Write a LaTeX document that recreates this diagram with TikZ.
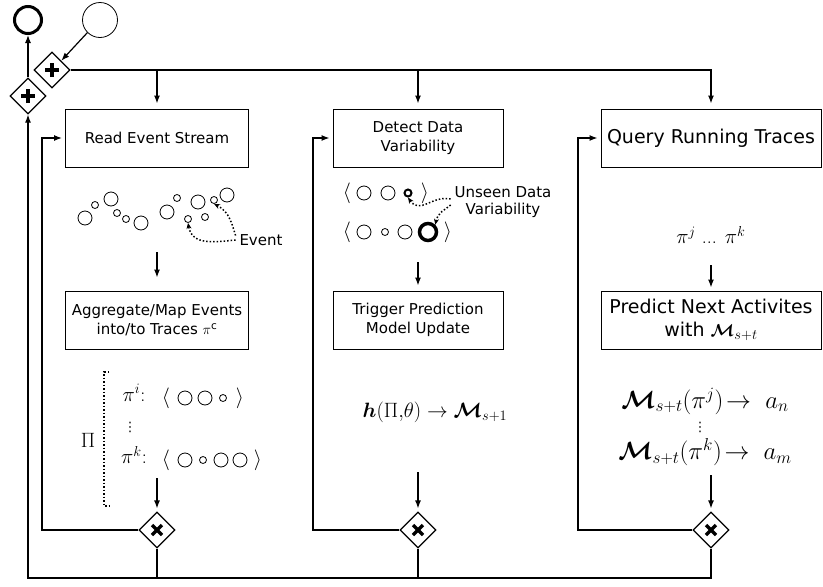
\documentclass[tikz,border=0pt]{standalone}
\usepackage{amsmath}
\usepackage{bm}
\usepackage{fontspec}
\setsansfont{DejaVu Sans}
\newfontfamily\symfont{DejaVu Sans}
\usetikzlibrary{positioning, shapes.geometric, arrows.meta}

\tikzset{
  task/.style={draw, rectangle, line width=1pt, align=center, minimum height=58pt, inner sep=3pt,
    font=\sffamily\fontsize{15}{19}\selectfont},
  bigtask/.style={task, font=\sffamily\fontsize{19}{23}\selectfont},
  gate/.style={draw, diamond, line width=1.2pt, minimum size=36pt, inner sep=0pt, fill=white},
  andgate/.style={gate, path picture={
      \draw[line width=4pt] ([xshift=-7pt]path picture bounding box.center) -- ([xshift=7pt]path picture bounding box.center);
      \draw[line width=4pt] ([yshift=-7pt]path picture bounding box.center) -- ([yshift=7pt]path picture bounding box.center);}},
  xorgate/.style={gate, path picture={
      \draw[line width=3.5pt] ([shift={(-5pt,-5pt)}]path picture bounding box.center) -- ([shift={(5pt,5pt)}]path picture bounding box.center);
      \draw[line width=3.5pt] ([shift={(-5pt,5pt)}]path picture bounding box.center) -- ([shift={(5pt,-5pt)}]path picture bounding box.center);}},
  ev/.style={draw, circle, inner sep=0pt, line width=0.8pt},
  note/.style={font=\sffamily\fontsize{15}{17}\selectfont, align=center},
  formula/.style={font=\fontsize{20}{23}\selectfont, inner sep=1pt},
  bigformula/.style={font=\fontsize{24}{27}\selectfont, inner sep=0pt},
  vdotsmark/.style={font=\symfont\fontsize{13}{14}\selectfont, inner sep=0pt},
  hint/.style={-{Stealth[length=6pt,width=5pt]}, dotted, line width=1.5pt},
}

\begin{document}
\begin{tikzpicture}[x=1pt, y=-1pt, line width=1.2pt, >={Latex[length=8pt,width=6pt]}, node distance=182pt, on grid]
  \useasboundingbox (0,0) rectangle (823,587);

  % start, end and the two parallel gates
  \node[circle, draw, line width=3pt, minimum size=27pt] (done) at (28,20) {};
  \node[circle, draw, line width=0.8pt, minimum size=35pt] (start) at (100,20) {};
  \node[andgate] (split) at (52,70) {};
  \node[andgate] (join) at (28,96) {};

  % the three loops
  \node[task, minimum width=183pt] (read) at (157,138) {Read Event Stream};
  \node[task, minimum width=183pt, below=of read] (aggr) {Aggregate/Map Events\\into/to Traces $\pi^{\textsf{c}}$};
  \node[task, minimum width=170pt] (detect) at (418,138) {Detect Data\\Variability};
  \node[task, minimum width=170pt, below=of detect] (trigger) {Trigger Prediction\\Model Update};
  \node[bigtask, minimum width=220pt] (query) at (711,138) {Query Running Traces};
  \node[bigtask, minimum width=220pt, below=of query] (predict) {Predict Next Activites\\with $\bm{\mathcal{M}}_{s+t}$};

  \node[xorgate] (x1) at (157,530) {};
  \node[xorgate] (x2) at (418,530) {};
  \node[xorgate] (x3) at (711,530) {};

  % events
  \foreach \x/\y/\d [count=\i] in {85/218/14, 95/205/7, 111/199/14, 117/213/7, 126/219/7, 141/223/14, 167/212/14,
      177/198/7, 188/219/7, 198/202/14, 205/217/7, 214/200/7, 227/195/14}
    \node[ev, minimum size=\d*1pt] (e\i) at (\x,\y) {};
  \node[note] (evt) at (261,240) {Event};
  \draw[hint] (evt.west) .. controls (215,242) and (192,246) .. (e9.south);
  \draw[hint] ([yshift=-5pt]evt.north west) .. controls (232,225) and (230,212) .. (e12.south);

  % traces
  \node[formula] (traces) at (88,440) {$\Pi$};
  \draw[dotted, line width=1.5pt] (109,372) -- (104,372) -- (104,506) -- (109,506);
  \node[formula] (pi) at (134,393) {$\pi^{i}$:};
  \node[formula] (pil) at (166,398) {$\langle$};
  \foreach \x/\d [count=\i] in {185/14, 205/14, 223/7}
    \node[ev, minimum size=\d*1pt] (pi\i) at (\x,398) {};
  \node[formula] (pir) at (240,398) {$\rangle$};
  \node[vdotsmark] (pdots) at (130,427) {⋮};
  \node[formula] (pk) at (134,455) {$\pi^{k}$:};
  \node[formula] (pkl) at (166,460) {$\langle$};
  \foreach \x/\d [count=\i] in {185/14, 203/7, 221/14, 240/14}
    \node[ev, minimum size=\d*1pt] (pk\i) at (\x,460) {};
  \node[formula] (pkr) at (258,460) {$\rangle$};

  % data variability
  \node[formula] (u1l) at (347,193) {$\langle$};
  \foreach \x/\d [count=\i] in {364/14, 388/14}
    \node[ev, minimum size=\d*1pt] (u1\i) at (\x,193) {};
  \node[ev, line width=2pt, minimum size=7pt] (u1t) at (408,193) {};
  \node[formula] (u1r) at (425,193) {$\rangle$};
  \node[formula] (u2l) at (347,232) {$\langle$};
  \foreach \x/\d [count=\i] in {364/14, 385/7, 405/14}
    \node[ev, minimum size=\d*1pt] (u2\i) at (\x,232) {};
  \node[ev, line width=3.5pt, minimum size=17pt] (u2t) at (428,232) {};
  \node[formula] (u2r) at (448,232) {$\rangle$};
  \node[note] (unseen) at (503,202) {Unseen Data\\Variability};
  \draw[hint] ([yshift=3pt]unseen.west) .. controls (432,195) and (420,215) .. (u1t.south);
  \draw[hint] ([yshift=-3pt]unseen.west) .. controls (445,210) and (438,212) .. (u2t.north east);

  \node[font=\fontsize{20}{23}\selectfont] (update) at (435,412) {$\bm{h}(\Pi{,}\theta)\rightarrow\bm{\mathcal{M}}_{s+1}$};

  % prediction
  \node[formula] (running) at (711,235) {$\pi^{j}$ ... $\pi^{k}$};
  \node[bigformula] (mj) at (705,401) {$\bm{\mathcal{M}}_{s+t}(\pi^{j})\!\rightarrow\ a_{n}$};
  \node[vdotsmark] (mdots) at (700,427) {⋮};
  \node[bigformula] (mk) at (705,452) {$\bm{\mathcal{M}}_{s+t}(\pi^{k})\!\rightarrow\ a_{m}$};

  % flow
  \coordinate (a1) at (157,252);
  \coordinate (a2) at (418,262);
  \coordinate (a3) at (711,265);
  \coordinate (b1) at (157,478);
  \coordinate (b2) at (418,472);
  \coordinate (b3) at (711,475);
  \coordinate (fb1) at (42,0);
  \coordinate (fb2) at (313,0);
  \coordinate (fb3) at (578,0);
  \coordinate (bot) at (0,578);

  \draw[->] (join.north) -- (done.south);
  \draw[->] (start.south west) -- (split.north east);
  \draw[->, shorten >=5pt] (split.east) -| (read.north);
  \draw[->, shorten >=5pt] (split.east) -| (detect.north);
  \draw[->, shorten >=5pt] (split.east) -| (query.north);

  \draw[->, shorten >=13pt] (a1) -- (aggr.north);
  \draw[->, shorten >=5pt] (a2) -- (trigger.north);
  \draw[->, shorten >=3pt] (a3) -- (predict.north);
  \draw[->, shorten >=3pt] (b1) -- (x1.north);
  \draw[->, shorten >=3pt] (b2) -- (x2.north);
  \draw[->, shorten >=3pt] (b3) -- (x3.north);

  \draw[->, shorten >=3pt] (x1.west) -- (x1.west -| fb1) |- (read.west);
  \draw[->, shorten >=3pt] (x2.west) -- (x2.west -| fb2) |- (detect.west);
  \draw[->, shorten >=3pt] (x3.west) -- (x3.west -| fb3) |- (query.west);

  \draw (x1.south) -- (x1.south |- bot);
  \draw (x2.south) -- (x2.south |- bot);
  \draw[->] (x3.south) |- (bot -| join.south) -- (join.south);
\end{tikzpicture}
\end{document}
